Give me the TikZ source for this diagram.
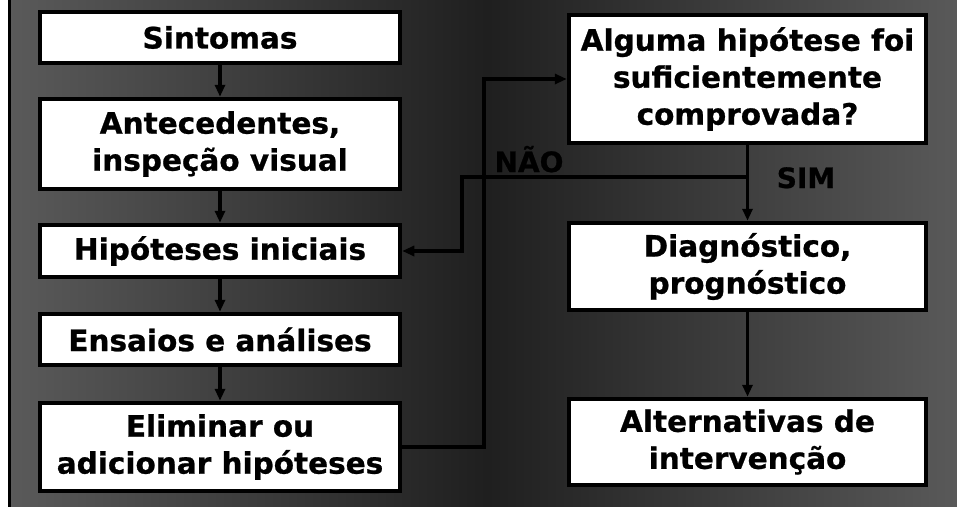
\documentclass[tikz,border=0pt]{standalone}
\usepackage{fontspec}
\setmainfont{DejaVu Sans}[BoldFeatures={FakeBold=0.8}]
\usetikzlibrary{arrows.meta,calc}
\definecolor{bgside}{HTML}{5A5A5A}
\definecolor{bgmid}{HTML}{1F1F1F}
\tikzset{
  box/.style={draw=black, line width=4.5pt, fill=white, inner sep=0pt, align=center,
    font=\fontsize{29.5}{37}\selectfont\bfseries},
  lbox/.style={box, minimum width=360pt},
  rbox/.style={box, minimum width=357pt},
  conn/.style={line width=3.5pt, draw=black},
  arr/.style={conn, -{Triangle[length=12pt,width=10pt]}},
  lbl/.style={font=\fontsize{28}{30}\selectfont\bfseries, text=black, inner sep=0pt, anchor=base}
}
\begin{document}
\begin{tikzpicture}[x=1pt,y=-1pt]
\useasboundingbox (0,0) rectangle (957,506);
\shade[left color=bgside, right color=bgside, middle color=bgmid] (9,-6) rectangle (965,512);
\draw[line width=3pt] (9.5,-6) -- (9.5,512);

% left column
\node[lbox, minimum height=51pt] (b1) at (220,37.5) {Sintomas};
\node[lbox, minimum height=90pt] (b2) at (220,144) {Antecedentes,\\inspeção visual};
\node[lbox, minimum height=52pt] (b3) at (220,251) {Hipóteses iniciais};
\node[lbox, minimum height=51pt] (b4) at (220,339.5) {Ensaios e análises};
\node[lbox, minimum height=88pt] (b5) at (220,447) {Eliminar ou\\adicionar hipóteses};

% right column
\node[rbox, minimum height=128pt] (A) at (747.5,79) {Alguma hipótese foi\\suficientemente\\comprovada?};
\node[rbox, minimum height=87pt] (B) at (747.5,266.5) {Diagnóstico,\\prognóstico};
\node[rbox, minimum height=86pt] (C) at (747.5,442) {Alternativas de\\intervenção};

% coordinates for routing
\coordinate (v1) at (484,0);
\coordinate (v2) at (462,0);
\coordinate (J) at (747.5,177);

% left chain
\draw[arr] (b1.south) -- (b2.north);
\draw[arr] (b2.south) -- (b3.north);
\draw[arr] (b3.south) -- (b4.north);
\draw[arr] (b4.south) -- (b5.north);

% loop to question
\draw[arr] (b5.east) -- (b5.east -| v1) -- (v1 |- A.west) -- (A.west);

% yes / no
\draw[arr] (A.south) -- (B.north);
\draw[arr] (J) -- (J -| v2) -- (v2 |- b3.east) -- (b3.east);
\draw[arr] (B.south) -- (C.north);

\node[lbl] (nao) at (529,172) {NÃO};
\node[lbl] (sim) at (806,188) {SIM};
\end{tikzpicture}
\end{document}
